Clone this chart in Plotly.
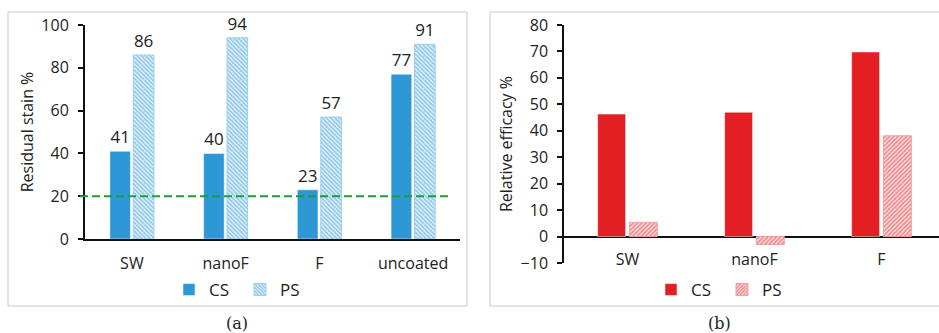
import plotly.graph_objects as go

# Panel (a): residual stain
cats_a = ["SW", "nanoF", "F", "uncoated"]
cs_a = [41, 40, 23, 77]
ps_a = [86, 94, 57, 91]
threshold = 20

# Panel (b): relative efficacy
cats_b = ["SW", "nanoF", "F"]
cs_b = [46.3, 47.0, 69.8]
ps_b = [5.4, -3.0, 38.1]

W, H = 939, 333
BLUE = "#2E97D5"
BLUE_LIGHT = "#9CCFEE"
RED = "#E31F24"
RED_LIGHT = "#F0A0A3"
FONT = "Open Sans"
INK = "#222222"


def px(x):
    return x / W


def py(y):
    return 1 - y / H


fig = go.Figure()

fig.add_trace(go.Bar(
    x=cats_a, y=cs_a, name="CS", xaxis="x", yaxis="y", legend="legend",
    marker=dict(color=BLUE, line=dict(color="#FFFFFF", width=0.5)),
    text=[str(v) for v in cs_a], textposition="outside",
    textfont=dict(family=FONT, size=17, color=INK), cliponaxis=False,
))
fig.add_trace(go.Bar(
    x=cats_a, y=ps_a, name="PS", xaxis="x", yaxis="y", legend="legend",
    marker=dict(color="#FFFFFF", line=dict(color=BLUE_LIGHT, width=1),
                pattern=dict(shape="\\", fgcolor=BLUE, bgcolor="#FFFFFF",
                             size=3, solidity=0.7)),
    text=[str(v) for v in ps_a], textposition="outside",
    textfont=dict(family=FONT, size=17, color=INK), cliponaxis=False,
))

fig.add_trace(go.Bar(
    x=cats_b, y=cs_b, name="CS", xaxis="x2", yaxis="y2", legend="legend2",
    marker=dict(color=RED, line=dict(color="#FFFFFF", width=0.5)),
))
fig.add_trace(go.Bar(
    x=cats_b, y=ps_b, name="PS", xaxis="x2", yaxis="y2", legend="legend2",
    marker=dict(color="#FFFFFF", line=dict(color=RED_LIGHT, width=1),
                pattern=dict(shape="/", fgcolor=RED, bgcolor="#FFFFFF",
                             size=3, solidity=0.7)),
))

# Threshold line across panel (a)
fig.add_shape(type="line", xref="paper", yref="y",
              x0=px(80), x1=px(450), y0=threshold, y1=threshold,
              line=dict(color="#1A9E3A", width=2, dash="8px,4px"))

# Panel frames
fig.add_shape(type="rect", xref="paper", yref="paper",
              x0=px(8), x1=px(467), y0=py(306), y1=py(12),
              line=dict(color="#C8C8C8", width=1), layer="below")
fig.add_shape(type="rect", xref="paper", yref="paper",
              x0=px(490), x1=px(960), y0=py(306), y1=py(12),
              line=dict(color="#C8C8C8", width=1), layer="below")

# Panel captions
for label, xc in (("(a)", 237), ("(b)", 719)):
    fig.add_annotation(text=label, xref="paper", yref="paper",
                       x=px(xc), y=py(323), showarrow=False,
                       font=dict(family="DejaVu Serif", size=16, color=INK),
                       xanchor="center", yanchor="middle")

tickfont = dict(family=FONT, size=16, color=INK)
titlefont = dict(family=FONT, size=16, color=INK)
legfont = dict(family=FONT, size=17, color=INK)

fig.update_layout(
    width=W, height=H,
    margin=dict(l=0, r=0, t=0, b=0, autoexpand=False),
    paper_bgcolor="white", plot_bgcolor="white",
    barmode="group", bargap=0.5, bargroupgap=0.12,
    font=dict(family=FONT, color=INK),
    xaxis=dict(domain=[px(85), px(460)], anchor="y", showgrid=False,
               showline=True, linecolor="#111111", linewidth=2, ticks="",
               tickfont=tickfont, ticklabelstandoff=9, fixedrange=True,
               automargin=False),
    yaxis=dict(domain=[py(239), py(25)], anchor="x", range=[0, 100],
               dtick=20, showgrid=False, showline=True, linecolor="#111111",
               linewidth=2, ticks="outside", ticklen=5, tickwidth=1.5,
               tickcolor="#111111", tickfont=tickfont, zeroline=False,
               ticklabelstandoff=6, automargin=False,
               title=dict(text="Residual stain %", font=titlefont, standoff=4)),
    xaxis2=dict(domain=[px(564), 1], anchor="free", position=py(237),
                showgrid=False, showline=False, ticks="", range=[-0.5, 2.453],
                tickfont=tickfont, ticklabelstandoff=11, fixedrange=True,
                automargin=False),
    yaxis2=dict(domain=[py(263), py(25)], anchor="x2", range=[-10, 80],
                dtick=10, showgrid=False, showline=True, linecolor="#111111",
                linewidth=1.5, ticks="outside", ticklen=5, tickwidth=1.5,
                tickcolor="#111111", tickfont=tickfont, zeroline=True,
                zerolinecolor="#111111", zerolinewidth=1.5,
                ticklabelstandoff=6, automargin=False,
                title=dict(text="Relative efficacy %", font=titlefont, standoff=4)),
    legend=dict(orientation="h", x=px(240), y=py(290), xanchor="center",
                yanchor="middle", font=legfont, bgcolor="rgba(0,0,0,0)",
                entrywidth=26, itemwidth=30),
    legend2=dict(orientation="h", x=px(722), y=py(290), xanchor="center",
                 yanchor="middle", font=legfont, bgcolor="rgba(0,0,0,0)",
                 entrywidth=26, itemwidth=30),
)

fig.write_html("out.html")
